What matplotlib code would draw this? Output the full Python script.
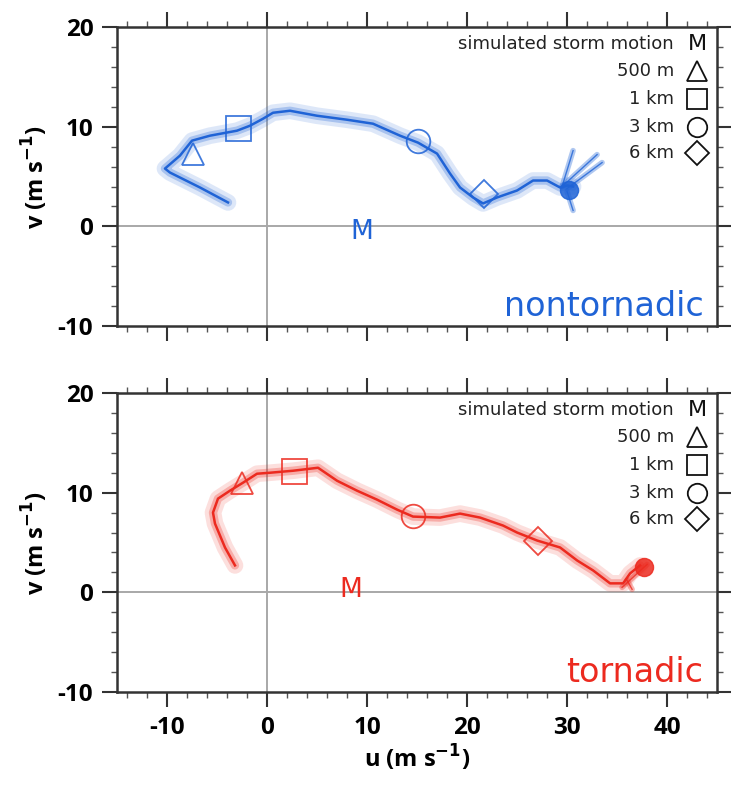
import matplotlib
matplotlib.use("Agg")
import matplotlib.pyplot as plt

# ---------------- data (u, v in m/s) ----------------
nt_u = [-3.9, -6.7, -9.7, -10.2, -8.7, -7.5, -5.7, -3.0, -1.7, -0.4, 0.6, 2.3, 5.0, 8.0,
        10.6, 13.3, 15.1, 17.0, 18.3, 19.3, 20.6, 21.6, 23.0, 25.0, 26.6, 28.0, 29.3, 30.0, 30.6]
nt_v = [2.4, 3.9, 5.4, 5.8, 7.1, 8.6, 9.1, 9.6, 10.1, 10.8, 11.4, 11.6, 11.1, 10.7,
        10.3, 9.1, 8.4, 7.3, 5.3, 3.9, 2.9, 2.3, 2.9, 3.6, 4.6, 4.6, 3.9, 4.1, 4.0]
# end-of-profile spread (nontornadic)
nt_branch_u = [[29.5, 30.6], [29.5, 33.0], [30.0, 33.5], [30.0, 30.6]]
nt_branch_v = [[4.0, 7.6], [4.0, 7.2], [3.8, 6.4], [3.5, 1.6]]
nt_blob = (30.2, 3.6)

t_u = [-3.2, -4.2, -5.2, -5.4, -4.9, -3.7, -2.4, -1.0, 0.3, 2.6, 5.1, 7.0, 9.0, 11.0,
       13.0, 14.6, 17.3, 19.3, 21.3, 23.6, 25.0, 27.0, 29.3, 31.0, 32.6, 34.3, 35.6, 36.3, 37.3]
t_v = [2.7, 4.5, 6.9, 8.0, 9.4, 10.2, 11.0, 11.9, 12.0, 12.2, 12.5, 11.2, 10.2, 9.3,
       8.3, 7.6, 7.5, 7.9, 7.5, 6.7, 6.0, 5.2, 4.5, 3.2, 2.2, 0.9, 0.9, 1.9, 2.7]
t_branch_u = [[35.5, 38.0], [36.0, 36.5]]
t_branch_v = [[0.5, 2.8], [1.2, 0.3]]
t_blob = (37.7, 2.5)

# height markers: 500 m, 1 km, 3 km, 6 km
nt_mark_u = [-7.4, -2.9, 15.1, 21.7]
nt_mark_v = [7.3, 9.9, 8.6, 3.2]
t_mark_u = [-2.5, 2.7, 14.6, 27.1]
t_mark_v = [11.0, 12.2, 7.7, 5.2]
mark_syms = ['^', 's', 'o', 'D']
mark_labels = ['500 m', '1 km', '3 km', '6 km']

# simulated storm motion
nt_storm = (9.5, -0.6)
t_storm = (8.4, 0.2)

x_ticks = [-10, 0, 10, 20, 30, 40]
y_ticks = [-10, 0, 10, 20]

BLUE = '#1f63d6'
RED = '#ec2a1f'

fig = plt.figure(figsize=(7.31, 7.86), dpi=100)
ax1 = fig.add_axes([0.160, 0.5852, 0.821, 0.3804])
ax2 = fig.add_axes([0.160, 0.1196, 0.821, 0.3804])

BOLD_FAM = ['Open Sans', 'DejaVu Sans']
tick_font = dict(family=BOLD_FAM, weight='bold', size=17.5)

def style(ax, show_x):
    ax.set_xlim(-15, 45)
    ax.set_ylim(-10, 20)
    ax.axhline(0, color='#a8a8a8', lw=1.4, zorder=1)
    ax.axvline(0, color='#a8a8a8', lw=1.4, zorder=1)
    ax.set_xticks(x_ticks)
    ax.set_yticks(y_ticks)
    ax.set_xticks([x for x in range(-14, 46, 2)], minor=True)
    ax.set_yticks([y for y in range(-10, 21, 2)], minor=True)
    ax.tick_params(which='major', direction='out', length=11, width=1.5, color='#333333',
                   top=True, right=True, pad=6)
    ax.tick_params(which='minor', direction='out', length=4, width=1.0, color='#555555',
                   top=True, right=True)
    for s in ax.spines.values():
        s.set_linewidth(1.8)
        s.set_color('#333333')
    ax.set_yticklabels([str(t) for t in y_ticks], fontdict=tick_font)
    if show_x:
        ax.set_xticklabels([str(t) for t in x_ticks], fontdict=tick_font)
    else:
        ax.set_xticklabels([])
    ax.set_ylabel(r'v (m s$^{\mathbf{-1}}$)', family=BOLD_FAM, weight='bold', size=17, labelpad=5)

def draw(ax, u, v, bu, bv, blob, mu, mv, storm, color, title):
    ax.plot(u, v, color=color, lw=12, alpha=0.15, solid_capstyle='round', solid_joinstyle='round', zorder=2)
    ax.plot(u, v, color=color, lw=6, alpha=0.28, solid_capstyle='round', solid_joinstyle='round', zorder=2)
    for xs, ys in zip(bu, bv):
        ax.plot(xs, ys, color=color, lw=4, alpha=0.35, solid_capstyle='round', zorder=2)
        ax.plot(xs, ys, color=color, lw=1.0, alpha=0.8, zorder=2)
    ax.plot([blob[0]], [blob[1]], marker='o', ms=13, color=color, alpha=0.85, zorder=3)
    ax.plot(u, v, color=color, lw=1.8, zorder=3)
    for x, y, m in zip(mu, mv, mark_syms):
        ms = 18 if m == 's' else (17 if m == 'o' else (16 if m == '^' else 14))
        ax.plot([x], [y], marker=m, ms=ms, mfc='none', mec=color, mew=1.3, alpha=0.85, zorder=4)
    ax.text(storm[0], storm[1], 'M', color=color, fontsize=19, family='DejaVu Sans',
            ha='center', va='center', zorder=5)
    ax.text(0.977, 0.035, title, transform=ax.transAxes, color=color, fontsize=24,
            family='DejaVu Sans', ha='right', va='baseline')
    # legend
    rows = [0.942, 0.852, 0.758, 0.665, 0.578]
    lx_text = 0.928
    lx_mark = 0.967
    ax.text(lx_text, rows[0], 'simulated storm motion', transform=ax.transAxes,
            fontsize=13, family='DejaVu Sans', color='#222222', ha='right', va='center')
    ax.text(lx_mark, rows[0], 'M', transform=ax.transAxes, fontsize=16,
            family='DejaVu Sans', color='#111111', ha='center', va='center')
    for r, lab, m in zip(rows[1:], mark_labels, mark_syms):
        ax.text(lx_text, r, lab, transform=ax.transAxes, fontsize=13,
                family='DejaVu Sans', color='#222222', ha='right', va='center')
        ms = 14 if m in ('^', 's', 'o') else 12
        ax.plot([lx_mark], [r], marker=m, ms=ms, mfc='none', mec='#111111', mew=1.3,
                transform=ax.transAxes, clip_on=False)

style(ax1, False)
style(ax2, True)
draw(ax1, nt_u, nt_v, nt_branch_u, nt_branch_v, nt_blob, nt_mark_u, nt_mark_v, nt_storm, BLUE, 'nontornadic')
draw(ax2, t_u, t_v, t_branch_u, t_branch_v, t_blob, t_mark_u, t_mark_v, t_storm, RED, 'tornadic')
ax2.set_xlabel(r'u (m s$^{\mathbf{-1}}$)', family=BOLD_FAM, weight='bold', size=17, labelpad=3)

fig.savefig('out.png', dpi=100)
